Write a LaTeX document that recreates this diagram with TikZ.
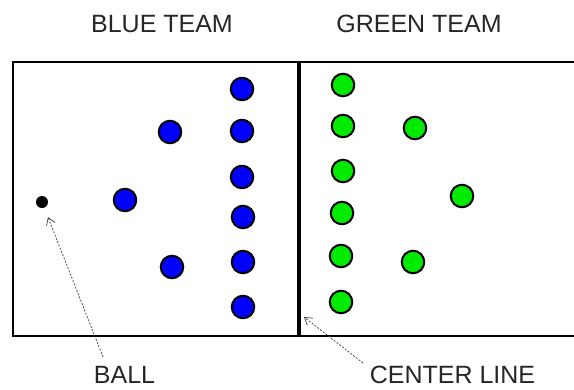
\documentclass[tikz,border=0pt]{standalone}
\usepackage{fontspec}
\setmainfont{Liberation Sans}
\usetikzlibrary{arrows.meta}
\definecolor{pgreen}{RGB}{0,235,0}
\tikzset{
  bluep/.style={circle,draw=black,line width=2pt,fill=blue,minimum size=22.5pt,inner sep=0pt},
  greenp/.style={circle,draw=black,line width=2pt,fill=pgreen,minimum size=22.5pt,inner sep=0pt},
  ballp/.style={circle,fill=black,minimum size=12pt,inner sep=0pt},
  lbl/.style={font=\fontsize{25}{30}\selectfont,text=black!85,anchor=base,inner sep=0pt},
  fieldline/.style={line width=2.8pt,black},
  pointer/.style={draw=black!75,line width=0.7pt,dash pattern=on 2pt off 1.5pt,-{Straight Barb[length=7pt,width=9pt]}}
}
\begin{document}
\begin{tikzpicture}[x=1pt,y=-1pt]
\useasboundingbox (0,0) rectangle (574,389);
\fill[white] (0,0) rectangle (574,389);
% field
\draw[fieldline] (574,62) -- (13,62) -- (13,336) -- (574,336);
\draw[line width=3.5pt] (299,62) -- (299,336);
\coordinate (clpt) at (304,317);
% labels
\node[lbl] (bluelbl) at (162,32) {BLUE TEAM};
\node[lbl] (greenlbl) at (419,32) {GREEN TEAM};
\node[lbl] (balllbl) at (124.5,383) {BALL};
\node[lbl] (cllbl) at (452.5,383) {CENTER LINE};
\coordinate (balltail) at (103,357);
\coordinate (cltail) at (363,363);
% ball
\node[ballp] (ball) at (42,202) {};
% blue team
\node[bluep] (b1) at (242,89) {};
\node[bluep] (b2) at (170,132) {};
\node[bluep] (b3) at (242,131) {};
\node[bluep] (b4) at (242,177) {};
\node[bluep] (b5) at (243,217) {};
\node[bluep] (b6) at (172,267) {};
\node[bluep] (b7) at (243,262) {};
\node[bluep] (b8) at (243,307) {};
\node[bluep] (b9) at (125,200) {};
% green team
\node[greenp] (g1) at (343,85) {};
\node[greenp] (g2) at (343,126) {};
\node[greenp] (g3) at (415,128) {};
\node[greenp] (g4) at (343,171) {};
\node[greenp] (g5) at (462,196) {};
\node[greenp] (g6) at (342,213) {};
\node[greenp] (g7) at (341,256) {};
\node[greenp] (g8) at (413,262) {};
\node[greenp] (g9) at (341,302) {};
% pointers
\draw[pointer,shorten >=10pt] (balltail) -- (ball);
\draw[pointer] (cltail) -- (clpt);
\end{tikzpicture}
\end{document}
